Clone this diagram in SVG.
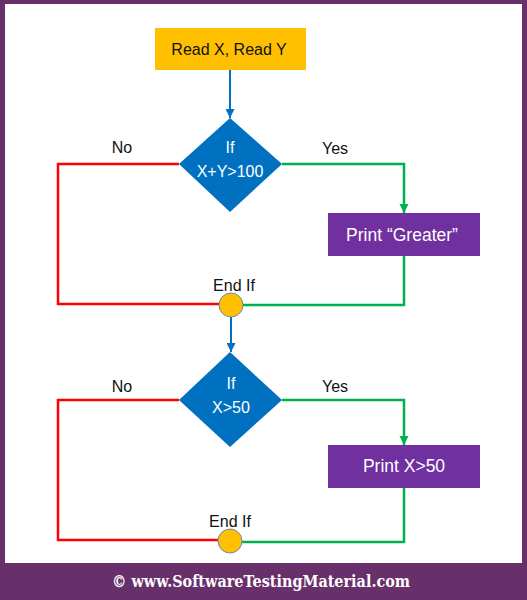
<svg xmlns="http://www.w3.org/2000/svg" width="527" height="600" viewBox="0 0 527 600">
<style>
.lbl{font-family:"Liberation Sans",Arial,sans-serif;font-size:16px;fill:#111;text-anchor:middle}
.wt{font-family:"Liberation Sans",Arial,sans-serif;font-size:16px;fill:#fff;text-anchor:middle}
.pt{font-family:"Liberation Sans",Arial,sans-serif;font-size:17.5px;fill:#fff;text-anchor:middle}
.no{fill:none;stroke:#FF0000;stroke-width:2.5}
.yes{fill:none;stroke:#00B050;stroke-width:2.5}
.flow{fill:none;stroke:#0070C0;stroke-width:2}
.dec{fill:#0070C0}
.proc{fill:#7030A0}
.endif{fill:#FFC000;stroke:#6A8AB0;stroke-width:1}
</style>
<defs>
<marker id="ab" viewBox="0 0 10 10" refX="10" refY="5" markerWidth="4.5" markerHeight="4.5" orient="auto" markerUnits="strokeWidth"><path d="M0,0 L10,5 L0,10 z" fill="#0070C0"/></marker>
<marker id="ag" viewBox="0 0 10 10" refX="10" refY="5" markerWidth="3.8" markerHeight="3.8" orient="auto" markerUnits="strokeWidth"><path d="M0,0 L10,5 L0,10 z" fill="#00B050"/></marker>
</defs>
<rect x="0" y="0" width="527" height="600" fill="#68306A"/>
<rect x="5" y="4" width="517" height="559" fill="#fff"/>
<text x="261" y="587" font-family="'DejaVu Serif','Liberation Serif',serif" font-weight="bold" font-size="16" fill="#fff" text-anchor="middle" textLength="298" lengthAdjust="spacingAndGlyphs">© www.SoftwareTestingMaterial.com</text>

<g id="connectors">
<line class="flow" x1="230" y1="70" x2="230" y2="118" marker-end="url(#ab)"/>
<polyline class="no" points="179,164 58,164 58,304 219,304"/>
<polyline class="yes" points="282,164 404,164 404,213" marker-end="url(#ag)"/>
<polyline class="yes" points="404,256 404,305 243,305"/>
<line class="flow" x1="231" y1="317" x2="231" y2="352" marker-end="url(#ab)"/>
<polyline class="no" points="179,400 58,400 58,540 218,540"/>
<polyline class="yes" points="282,400 404,400 404,445" marker-end="url(#ag)"/>
<polyline class="yes" points="404,488 404,542 242,542"/>
</g>

<g id="read">
<rect x="155" y="28" width="151" height="42" fill="#FFC000"/>
<text class="lbl" x="229" y="55">Read X, Read Y</text>
</g>

<g id="if1">
<polygon class="dec" points="230,118 282,164 230,212 179,164"/>
<text class="wt" x="230" y="153">If</text>
<text class="wt" x="230" y="177">X+Y&gt;100</text>
</g>
<text class="lbl" x="122" y="153">No</text>
<text class="lbl" x="335" y="154">Yes</text>

<g id="print1">
<rect class="proc" x="328" y="213" width="152" height="43"/>
<text class="pt" x="402" y="241">Print “Greater”</text>
</g>

<g id="endif1">
<circle class="endif" cx="231" cy="305" r="12"/>
<text class="lbl" x="234" y="291">End If</text>
</g>

<g id="if2">
<polygon class="dec" points="230,352 282,400 230,447 179,400"/>
<text class="wt" x="231" y="389">If</text>
<text class="wt" x="231" y="413">X&gt;50</text>
</g>
<text class="lbl" x="122" y="392">No</text>
<text class="lbl" x="335" y="392">Yes</text>

<g id="print2">
<rect class="proc" x="328" y="445" width="152" height="43"/>
<text class="pt" x="404" y="472">Print X&gt;50</text>
</g>

<g id="endif2">
<circle class="endif" cx="230" cy="541" r="12"/>
<text class="lbl" x="230" y="527">End If</text>
</g>
</svg>
